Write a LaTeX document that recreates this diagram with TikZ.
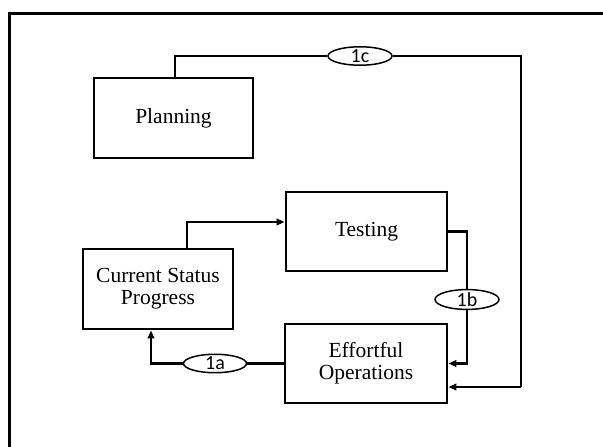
\documentclass[tikz,border=0pt]{standalone}
\usepackage{fontspec}
\setmainfont{Liberation Serif}
\newfontfamily\labfont{Carlito}
\usetikzlibrary{shapes.geometric,arrows.meta}
\begin{document}
\begin{tikzpicture}[x=1pt,y=-1pt,
  boxnode/.style={draw,line width=2.8pt,inner sep=0pt,align=center,
    font=\fontsize{21.5}{22}\selectfont},
  tag/.style={draw,ellipse,fill=white,line width=1.5pt,inner sep=0pt,
    minimum width=64pt,minimum height=18pt,font=\labfont\fontsize{20}{20}\selectfont},
  conn/.style={line width=2.5pt},
  arr/.style={conn,-{Triangle[length=8pt,width=6.5pt]}}]
\useasboundingbox (0,0) rectangle (603,447);
% frame
\draw[line width=3pt] (9,447) |- (603,13.5);
% boxes
\node[boxnode,minimum width=159pt,minimum height=80pt] (P) at (173.5,118) {Planning};
\node[boxnode,minimum width=161pt,minimum height=79pt] (T) at (366.5,231.5) {Testing};
\node[boxnode,minimum width=150pt,minimum height=80pt] (C) at (158,289) {Current Status\\Progress};
\node[boxnode,minimum width=162pt,minimum height=79pt] (E) at (366,363.5) {Effortful\\Operations};
% tags
\node[tag] (lc) at (360,56) {1c};
\node[tag] (lb) at (467,299.5) {1b};
\node[tag,minimum width=63pt] (la) at (215,363.5) {1a};
\coordinate (cR) at (521,387);
% connectors
\draw[arr] ([xshift=29pt]C.north) |- ([yshift=9.5pt]T.west);
\draw[conn] (T.east) -| (lb.north);
\draw[arr] (lb.south) |- (E.east);
\draw[conn] (E.west) -- (la.east);
\draw[arr] (la.west) -| ([xshift=-7pt]C.south);
\draw[conn] ([xshift=1.5pt]P.north) |- (lc.west);
\draw[conn] (lc.east) -| (cR);
\draw[arr] (cR) -- ([yshift=-23.5pt]E.east);
\end{tikzpicture}
\end{document}
